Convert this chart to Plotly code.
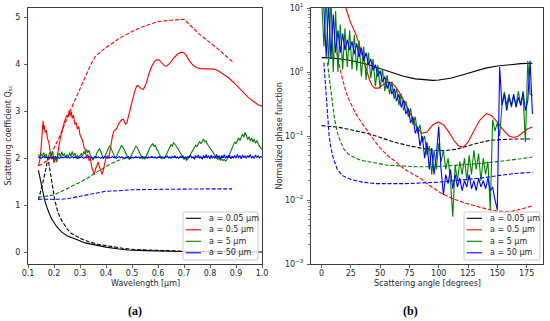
import plotly.graph_objects as go

W, H = 550, 321

# ---------------- Panel (a): scattering coefficient vs wavelength ----------------
labels = ["a = 0.05 μm", "a = 0.5 μm", "a = 5 μm", "a = 50 μm"]
colors = ["#000000", "#ff0000", "#008000", "#0000ff"]

# a = 0.05 um
wl_k_solid = [0.14, 0.15, 0.164, 0.175, 0.19, 0.21, 0.228, 0.25, 0.27, 0.292, 0.32, 0.356,
              0.40, 0.45, 0.485, 0.55, 0.60, 0.70, 0.80, 0.90, 1.00]
q_k_solid = [1.75, 1.45, 1.11, 0.92, 0.72, 0.55, 0.44, 0.35, 0.30, 0.26, 0.20, 0.155,
             0.11, 0.07, 0.05, 0.035, 0.027, 0.018, 0.012, 0.008, 0.005]
wl_k_dash = [0.14, 0.16, 0.177, 0.19, 0.203, 0.215, 0.228, 0.25, 0.267, 0.30, 0.331, 0.37,
             0.42, 0.47, 0.52, 0.60, 0.70, 0.80, 0.89]
q_k_dash = [1.11, 1.55, 2.00, 1.55, 1.11, 0.85, 0.69, 0.50, 0.40, 0.30, 0.23, 0.17,
            0.12, 0.08, 0.055, 0.035, 0.022, 0.015, 0.012]

# a = 0.5 um
wl_r_solid = [0.140, 0.145, 0.150, 0.155, 0.158, 0.160, 0.163, 0.166, 0.170, 0.175, 0.180,
              0.185, 0.190, 0.195, 0.200, 0.205, 0.210, 0.215, 0.220, 0.225, 0.230, 0.235,
              0.240, 0.245, 0.250, 0.255, 0.258, 0.262, 0.266, 0.270, 0.275, 0.280, 0.285,
              0.290, 0.295, 0.300, 0.305, 0.310, 0.315, 0.320, 0.325, 0.330, 0.335, 0.340,
              0.345, 0.350, 0.355, 0.360, 0.365, 0.370, 0.375, 0.380, 0.385, 0.390, 0.395,
              0.400, 0.405, 0.410, 0.415, 0.420, 0.425, 0.430, 0.440, 0.450, 0.460, 0.467,
              0.475, 0.480, 0.490, 0.500, 0.510, 0.518, 0.524, 0.535, 0.544, 0.555, 0.565,
              0.575, 0.585, 0.595, 0.605, 0.615, 0.625, 0.633, 0.645, 0.660, 0.675, 0.690,
              0.700, 0.710, 0.720, 0.735, 0.750, 0.765, 0.780, 0.800, 0.815, 0.830, 0.850,
              0.870, 0.890, 0.910, 0.930, 0.950, 0.970, 0.985, 1.000]
q_r_solid = [1.84, 1.95, 2.20, 2.55, 2.80, 2.62, 2.70, 2.55, 2.60, 2.42, 2.35,
             2.15, 1.98, 2.05, 1.90, 2.02, 1.92, 2.12, 2.30, 2.45, 2.55, 2.70,
             2.78, 2.85, 2.92, 2.88, 3.02, 2.90, 3.00, 2.85, 2.92, 2.72, 2.76,
             2.62, 2.68, 2.50, 2.42, 2.38, 2.25, 2.18, 2.02, 2.08, 1.95, 2.00,
             1.82, 1.70, 1.65, 1.78, 1.85, 1.92, 1.82, 1.72, 1.66, 1.75, 1.90,
             2.02, 2.05, 2.00, 2.15, 2.35, 2.48, 2.58, 2.62, 2.75, 2.82, 2.83,
             2.73, 2.75, 2.95, 3.20, 3.42, 3.54, 3.55, 3.48, 3.47, 3.60, 3.80,
             3.95, 4.05, 4.10, 4.09, 4.02, 3.97, 3.96, 4.02, 4.13, 4.22, 4.26,
             4.25, 4.18, 4.08, 3.98, 3.93, 3.91, 3.91, 3.91, 3.90, 3.87, 3.80,
             3.72, 3.62, 3.50, 3.38, 3.28, 3.20, 3.14, 3.11]
wl_r_dash = [0.14, 0.16, 0.18, 0.22, 0.26, 0.30, 0.34, 0.36, 0.40, 0.45, 0.50, 0.54,
             0.60, 0.65, 0.70, 0.76, 0.83, 0.89]
q_r_dash = [1.84, 1.90, 1.98, 2.45, 2.98, 3.50, 3.98, 4.18, 4.36, 4.55, 4.70, 4.80,
            4.91, 4.94, 4.96, 4.64, 4.33, 4.04]

# a = 5 um and a = 50 um (solid sampled every 0.005 um from 0.14 to 1.0)
wl_grid = [round(0.14 + 0.005 * i, 3) for i in range(173)]
q_g_solid = [
    2.08, 2.02, 2.10, 2.04, 2.12, 2.03, 2.09, 2.00, 2.06, 2.13,
    2.05, 2.15, 1.96, 2.04, 1.93, 2.06, 2.11, 2.03, 2.14, 2.05,
    2.10, 2.01, 2.08, 2.02, 2.12, 2.04, 2.15, 2.06, 2.11, 2.00,
    2.07, 1.99, 2.06, 2.10, 2.05, 2.15, 2.09, 2.19, 2.12, 2.17,
    2.06, 2.02, 1.96, 2.03, 2.01, 2.12, 2.17, 2.21, 2.14, 2.06,
    1.99, 2.03, 2.10, 2.18, 2.22, 2.27, 2.20, 2.14, 2.06, 2.01,
    2.04, 2.09, 2.16, 2.22, 2.28, 2.24, 2.19, 2.12, 2.05, 2.01,
    1.98, 2.03, 2.08, 2.15, 2.21, 2.26, 2.23, 2.17, 2.10, 2.04,
    1.99, 2.02, 1.98, 2.05, 2.12, 2.17, 2.24, 2.28, 2.31, 2.25,
    2.28, 2.19, 2.16, 2.08, 2.05, 1.99, 2.02, 2.00, 2.06, 2.13,
    2.18, 2.24, 2.29, 2.26, 2.33, 2.30, 2.27, 2.22, 2.17, 2.12,
    2.07, 2.03, 1.98, 2.01, 1.96, 1.99, 2.04, 2.08, 2.14, 2.19,
    2.23, 2.28, 2.25, 2.32, 2.36, 2.31, 2.38, 2.41, 2.35, 2.37,
    2.30, 2.27, 2.22, 2.18, 2.13, 2.09, 2.05, 2.01, 1.98, 2.00,
    1.96, 1.99, 1.95, 1.98, 1.94, 1.97, 2.03, 2.08, 2.15, 2.22,
    2.28, 2.35, 2.31, 2.40, 2.44, 2.38, 2.47, 2.52, 2.45, 2.55,
    2.48, 2.40, 2.46, 2.37, 2.43, 2.35, 2.41, 2.32, 2.38, 2.30,
    2.26, 2.22, 2.20]
q_b_solid = [
    2.01, 2.03, 2.00, 2.02, 2.04, 2.01, 2.03, 2.00, 2.02, 2.01,
    2.03, 2.00, 2.02, 2.04, 2.01, 2.03, 2.00, 2.02, 2.03, 2.01,
    2.02, 2.04, 2.01, 2.03, 2.00, 2.02, 2.04, 2.01, 2.03, 2.02,
    2.00, 2.03, 2.01, 2.04, 2.02, 2.00, 2.03, 2.01, 2.02, 2.04,
    2.01, 2.03, 2.00, 2.02, 2.04, 2.01, 2.03, 2.02, 2.00, 2.03,
    2.01, 2.04, 2.02, 2.00, 2.03, 2.01, 2.02, 2.04, 2.01, 2.03,
    2.00, 2.02, 2.04, 2.01, 2.03, 2.02, 2.00, 2.03, 2.01, 2.04,
    2.02, 2.00, 2.03, 2.01, 2.02, 2.04, 2.01, 2.03, 2.00, 2.02,
    2.04, 2.01, 2.03, 2.02, 2.00, 2.03, 2.01, 2.04, 2.02, 2.01,
    2.03, 2.00, 2.02, 2.04, 2.01, 2.03, 2.02, 2.00, 2.03, 2.05,
    2.01, 2.03, 2.00, 2.04, 2.02, 2.05, 2.01, 2.03, 2.00, 2.04,
    2.02, 2.05, 2.01, 2.03, 1.99, 2.04, 2.02, 2.06, 2.01, 2.03,
    1.98, 2.05, 2.02, 2.07, 2.00, 2.04, 1.98, 2.06, 2.01, 2.08,
    2.02, 2.05, 1.99, 2.07, 2.01, 2.04, 2.00, 2.08, 2.02, 2.05,
    1.99, 2.06, 2.01, 2.08, 2.00, 2.05, 2.02, 2.07, 1.99, 2.04,
    2.01, 2.06, 2.00, 2.08, 2.02, 2.05, 1.99, 2.07, 2.01, 2.05,
    2.00, 2.06, 2.02, 2.08, 2.01, 2.04, 2.00, 2.07, 2.02, 2.05,
    2.01, 2.04, 2.02]
wl_g_dash = [0.14, 0.17, 0.20, 0.215, 0.25, 0.292, 0.33, 0.356, 0.39, 0.42, 0.45, 0.472,
             0.52, 0.60, 0.70, 0.80, 0.89]
q_g_dash = [1.17, 1.19, 1.22, 1.26, 1.35, 1.47, 1.58, 1.68, 1.79, 1.89, 1.96, 2.00,
            2.02, 2.02, 2.01, 2.02, 2.02]
wl_b_dash = [0.14, 0.20, 0.228, 0.26, 0.29, 0.32, 0.356, 0.40, 0.446, 0.50, 0.60, 0.70,
             0.80, 0.885]
q_b_dash = [1.13, 1.12, 1.13, 1.15, 1.18, 1.22, 1.26, 1.30, 1.31, 1.33, 1.34, 1.35,
            1.35, 1.35]

# ---------------- Panel (b): normalized phase function vs angle ----------------
ang_k_solid = [0, 10, 20, 30, 40, 50, 60, 70, 80, 90, 95, 100, 110, 120, 130, 135, 140,
               150, 160, 170, 180]
p_k_solid = [1.68, 1.65, 1.57, 1.45, 1.30, 1.13, 0.98, 0.86, 0.78, 0.75, 0.74, 0.75,
             0.80, 0.90, 1.03, 1.10, 1.15, 1.24, 1.30, 1.35, 1.37]
ang_k_dash = [0, 13.5, 25, 40, 50, 61.5, 75, 85, 95, 105, 115, 125, 135, 145, 155, 165, 180]
p_k_dash = [0.145, 0.138, 0.125, 0.109, 0.095, 0.081, 0.070, 0.065, 0.060, 0.059, 0.062,
            0.070, 0.079, 0.086, 0.089, 0.090, 0.090]

ang_r_solid = [18, 20.6, 25, 29, 32, 34.7, 37, 39, 41, 43, 45.5, 48.5, 52, 56, 60, 64, 67,
               70, 73, 77, 81, 85.5, 90, 95, 99.7, 104, 108, 113, 117, 120.9, 125, 130,
               135, 140.7, 145, 150, 155, 160, 164, 168, 172, 176, 180]
p_r_solid = [14, 10, 5.8, 4.0, 2.8, 1.8, 1.3, 0.95, 0.75, 0.62, 0.56, 0.56, 0.63, 0.70,
             0.68, 0.56, 0.46, 0.37, 0.29, 0.20, 0.14, 0.11, 0.115, 0.15, 0.166, 0.15,
             0.12, 0.085, 0.07, 0.067, 0.08, 0.12, 0.176, 0.224, 0.21, 0.165, 0.125, 0.10,
             0.095, 0.10, 0.115, 0.13, 0.138]
ang_r_dash = [13, 15, 17, 19, 21, 23.4, 27, 30, 35, 40.3, 45, 50, 56, 63, 70, 77, 84, 92,
              102, 112, 122, 132, 145, 155, 163, 170, 175, 180]
p_r_dash = [2.0, 1.3, 0.9, 0.65, 0.48, 0.37, 0.27, 0.21, 0.155, 0.11, 0.085, 0.065, 0.05,
            0.04, 0.031, 0.026, 0.022, 0.017, 0.0128, 0.0105, 0.009, 0.008, 0.0069,
            0.0066, 0.0067, 0.0072, 0.0076, 0.0081]

ang_grid = list(range(0, 181, 2))
p_g_solid = [
    15, 2.5, 15, 1.3, 15, 1.0, 9, 1.0, 5.5, 1.1,
    4.8, 1.2, 4.5, 1.1, 3.8, 1.05, 3.1, 0.85, 2.5, 0.75,
    2.0, 0.8, 1.6, 0.6, 1.3, 0.55, 1.1, 0.5, 0.9, 0.45,
    0.7, 0.38, 0.55, 0.3, 0.45, 0.25, 0.35, 0.2, 0.27, 0.15,
    0.2, 0.11, 0.15, 0.08, 0.1, 0.05, 0.07, 0.025, 0.06, 0.03,
    0.077, 0.04, 0.06, 0.03, 0.045, 0.02, 0.0055, 0.035, 0.02, 0.04,
    0.025, 0.045, 0.02, 0.05, 0.025, 0.06, 0.03, 0.053, 0.02, 0.045,
    0.025, 0.04, 0.007, 0.18, 0.12, 0.16, 0.1, 0.3, 0.49, 0.3,
    0.45, 0.28, 0.42, 0.3, 0.5, 0.3, 0.45, 0.08, 1.5, 0.45,
    0.43]
p_b_solid = [
    15, 10, 1.7, 12, 1.6, 8, 2.0, 4.5, 2.0, 4.0,
    2.2, 3.2, 2.2, 3.0, 1.9, 2.8, 1.7, 2.4, 1.5, 2.0,
    1.3, 1.6, 1.05, 1.3, 0.85, 1.05, 0.7, 0.85, 0.55, 0.7,
    0.45, 0.55, 0.35, 0.45, 0.28, 0.36, 0.22, 0.27, 0.16, 0.2,
    0.11, 0.14, 0.07, 0.1, 0.045, 0.08, 0.03, 0.065, 0.025, 0.05,
    0.14, 0.03, 0.012, 0.025, 0.018, 0.03, 0.015, 0.025, 0.016, 0.022,
    0.014, 0.02, 0.016, 0.025, 0.015, 0.02, 0.014, 0.022, 0.016, 0.02,
    0.015, 0.022, 0.014, 0.016, 0.01, 0.007, 1.2, 0.3, 0.45, 0.25,
    0.4, 0.3, 0.45, 0.28, 0.4, 0.3, 0.5, 0.25, 0.35, 1.5,
    0.22]
ang_g_dash = [5, 6.5, 8, 9.3, 10.5, 12, 14, 16.4, 19, 23, 28, 33, 45, 56, 70, 81, 97,
              110, 125, 140, 159, 170, 180]
p_g_dash = [1.4, 0.8, 0.45, 0.32, 0.22, 0.15, 0.105, 0.08, 0.063, 0.052, 0.046, 0.042,
            0.038, 0.035, 0.034, 0.033, 0.033, 0.034, 0.036, 0.038, 0.041, 0.044, 0.047]
ang_b_dash = [2, 3, 3.6, 5, 6.5, 8, 10, 13.5, 18, 25, 35, 47, 70, 100, 120, 136, 150,
              165, 180]
p_b_dash = [1.4, 0.8, 0.45, 0.22, 0.1, 0.065, 0.045, 0.03, 0.024, 0.021, 0.019, 0.018,
            0.018, 0.019, 0.0205, 0.022, 0.024, 0.026, 0.027]

x_ticks_a = [0.1, 0.2, 0.3, 0.4, 0.5, 0.6, 0.7, 0.8, 0.9, 1.0]
y_ticks_a = [0, 1, 2, 3, 4, 5]
x_ticks_b = [0, 25, 50, 75, 100, 125, 150, 175]
y_ticks_b = [1e-3, 1e-2, 1e-1, 1e0, 1e1]
y_ticktext_b = ["10<sup>−3</sup>", "10<sup>−2</sup>", "10<sup>−1</sup>", "10<sup>0</sup>",
                "10<sup>1</sup>"]

# ---------------- figure ----------------
LW = 1.1
DASH = "4px,1.8px"
FONT = "DejaVu Sans"
FS = 8
TXT = "#262626"

fig = go.Figure()

panel_a = [
    (wl_k_solid, q_k_solid, colors[0], "solid"),
    (wl_k_dash, q_k_dash, colors[0], DASH),
    (wl_r_solid, q_r_solid, colors[1], "solid"),
    (wl_r_dash, q_r_dash, colors[1], DASH),
    (wl_grid, q_g_solid, colors[2], "solid"),
    (wl_g_dash, q_g_dash, colors[2], DASH),
    (wl_grid, q_b_solid, colors[3], "solid"),
    (wl_b_dash, q_b_dash, colors[3], DASH),
]
for x, y, c, d in panel_a:
    fig.add_trace(go.Scatter(x=x, y=y, mode="lines", line=dict(color=c, width=LW, dash=d),
                             xaxis="x", yaxis="y", showlegend=False, hoverinfo="skip"))

panel_b = [
    (ang_k_solid, p_k_solid, colors[0], "solid"),
    (ang_k_dash, p_k_dash, colors[0], DASH),
    (ang_r_solid, p_r_solid, colors[1], "solid"),
    (ang_r_dash, p_r_dash, colors[1], DASH),
    (ang_grid, p_g_solid, colors[2], "solid"),
    (ang_g_dash, p_g_dash, colors[2], DASH),
    (ang_grid, p_b_solid, colors[3], "solid"),
    (ang_b_dash, p_b_dash, colors[3], DASH),
]
for x, y, c, d in panel_b:
    fig.add_trace(go.Scatter(x=x, y=y, mode="lines", line=dict(color=c, width=LW, dash=d),
                             xaxis="x2", yaxis="y2", showlegend=False, hoverinfo="skip"))


def px(x):
    return x / W


def py(y):
    return 1 - y / H


PLOT_TOP, PLOT_BOT = 8, 264
axis_common = dict(showline=True, linecolor="#3a3a3a", linewidth=1, mirror=True,
                   ticks="outside", ticklen=3, tickwidth=0.8, tickcolor="#3a3a3a",
                   showgrid=False, zeroline=False, automargin=False,
                   tickfont=dict(family=FONT, size=FS, color=TXT))

fig.update_layout(
    template="none",
    width=W, height=H, margin=dict(l=0, r=0, t=0, b=0, pad=0),
    paper_bgcolor="white", plot_bgcolor="white", showlegend=False,
    xaxis=dict(domain=[px(28), px(262)], range=[0.1, 1.0], tickvals=x_ticks_a,
               ticktext=[f"{v:.1f}" for v in x_ticks_a], anchor="y", ticklabelstandoff=-2,
               **axis_common),
    yaxis=dict(domain=[py(PLOT_BOT), py(PLOT_TOP)], range=[-0.249, 5.2], tickvals=y_ticks_a,
               ticktext=[str(v) for v in y_ticks_a], anchor="x", ticklabelstandoff=2,
               **axis_common),
    xaxis2=dict(domain=[px(311), px(543)], range=[-9, 189], tickvals=x_ticks_b,
                ticktext=[str(v) for v in x_ticks_b], anchor="y2", ticklabelstandoff=-2,
                **axis_common),
    yaxis2=dict(domain=[py(PLOT_BOT), py(PLOT_TOP)], type="log", range=[-3, 1],
                tickvals=y_ticks_b, ticktext=y_ticktext_b, anchor="x2", ticklabelstandoff=2,
                minor=dict(ticks="outside", ticklen=1.8, tickwidth=0.6, tickcolor="#3a3a3a",
                           tickvals=[m * 10 ** e for e in (-3, -2, -1, 0) for m in range(2, 10)]),
                **axis_common),
)


def text_ann(text, x, y, size=FS, family=FONT, color=TXT, angle=0, xanchor="center"):
    return dict(text=text, x=px(x), y=py(y), xref="paper", yref="paper", showarrow=False,
                xanchor=xanchor, yanchor="middle", textangle=angle,
                font=dict(family=family, size=size, color=color))


ann = [
    text_ann("Wavelength [μm]", 145, 283.5),
    text_ann("Scattering angle [degrees]", 427, 283.5),
    text_ann("Scattering coefficient Q<sub>sc</sub>", 8.5, 136, angle=-90),
    text_ann("Normalized phase function", 278.5, 136, angle=-90),
    text_ann("<b>(a)</b>", 135, 310.5, size=12, family="Liberation Serif", color="black"),
    text_ann("<b>(b)</b>", 410, 310.5, size=12, family="Liberation Serif", color="black"),
]

shapes = []


def rounded_box(x0, y0, x1, y1, r=2):
    return (f"M {px(x0 + r)},{py(y0)} L {px(x1 - r)},{py(y0)} "
            f"Q {px(x1)},{py(y0)} {px(x1)},{py(y0 + r)} L {px(x1)},{py(y1 - r)} "
            f"Q {px(x1)},{py(y1)} {px(x1 - r)},{py(y1)} L {px(x0 + r)},{py(y1)} "
            f"Q {px(x0)},{py(y1)} {px(x0)},{py(y1 - r)} L {px(x0)},{py(y0 + r)} "
            f"Q {px(x0)},{py(y0)} {px(x0 + r)},{py(y0)} Z")


entry_y = [218.3, 229.8, 241.3, 252.8]
for bx0, bx1 in [(183, 258), (464, 540)]:
    shapes.append(dict(type="path", path=rounded_box(bx0, 212, bx1, 260), xref="paper",
                       yref="paper", line=dict(color="#cccccc", width=1),
                       fillcolor="rgba(255,255,255,0.8)", layer="above"))
    for lab, col, ey in zip(labels, colors, entry_y):
        shapes.append(dict(type="line", x0=px(bx0 + 2.8), x1=px(bx0 + 18), y0=py(ey), y1=py(ey),
                           xref="paper", yref="paper", line=dict(color=col, width=LW),
                           layer="above"))
        ann.append(text_ann(lab, bx0 + 23.5, ey, xanchor="left"))

fig.update_layout(annotations=ann, shapes=shapes)
fig.write_html("out.html", config={"displayModeBar": False, "staticPlot": True},
               post_script="document.body.style.margin='0';document.body.style.padding='0';")
